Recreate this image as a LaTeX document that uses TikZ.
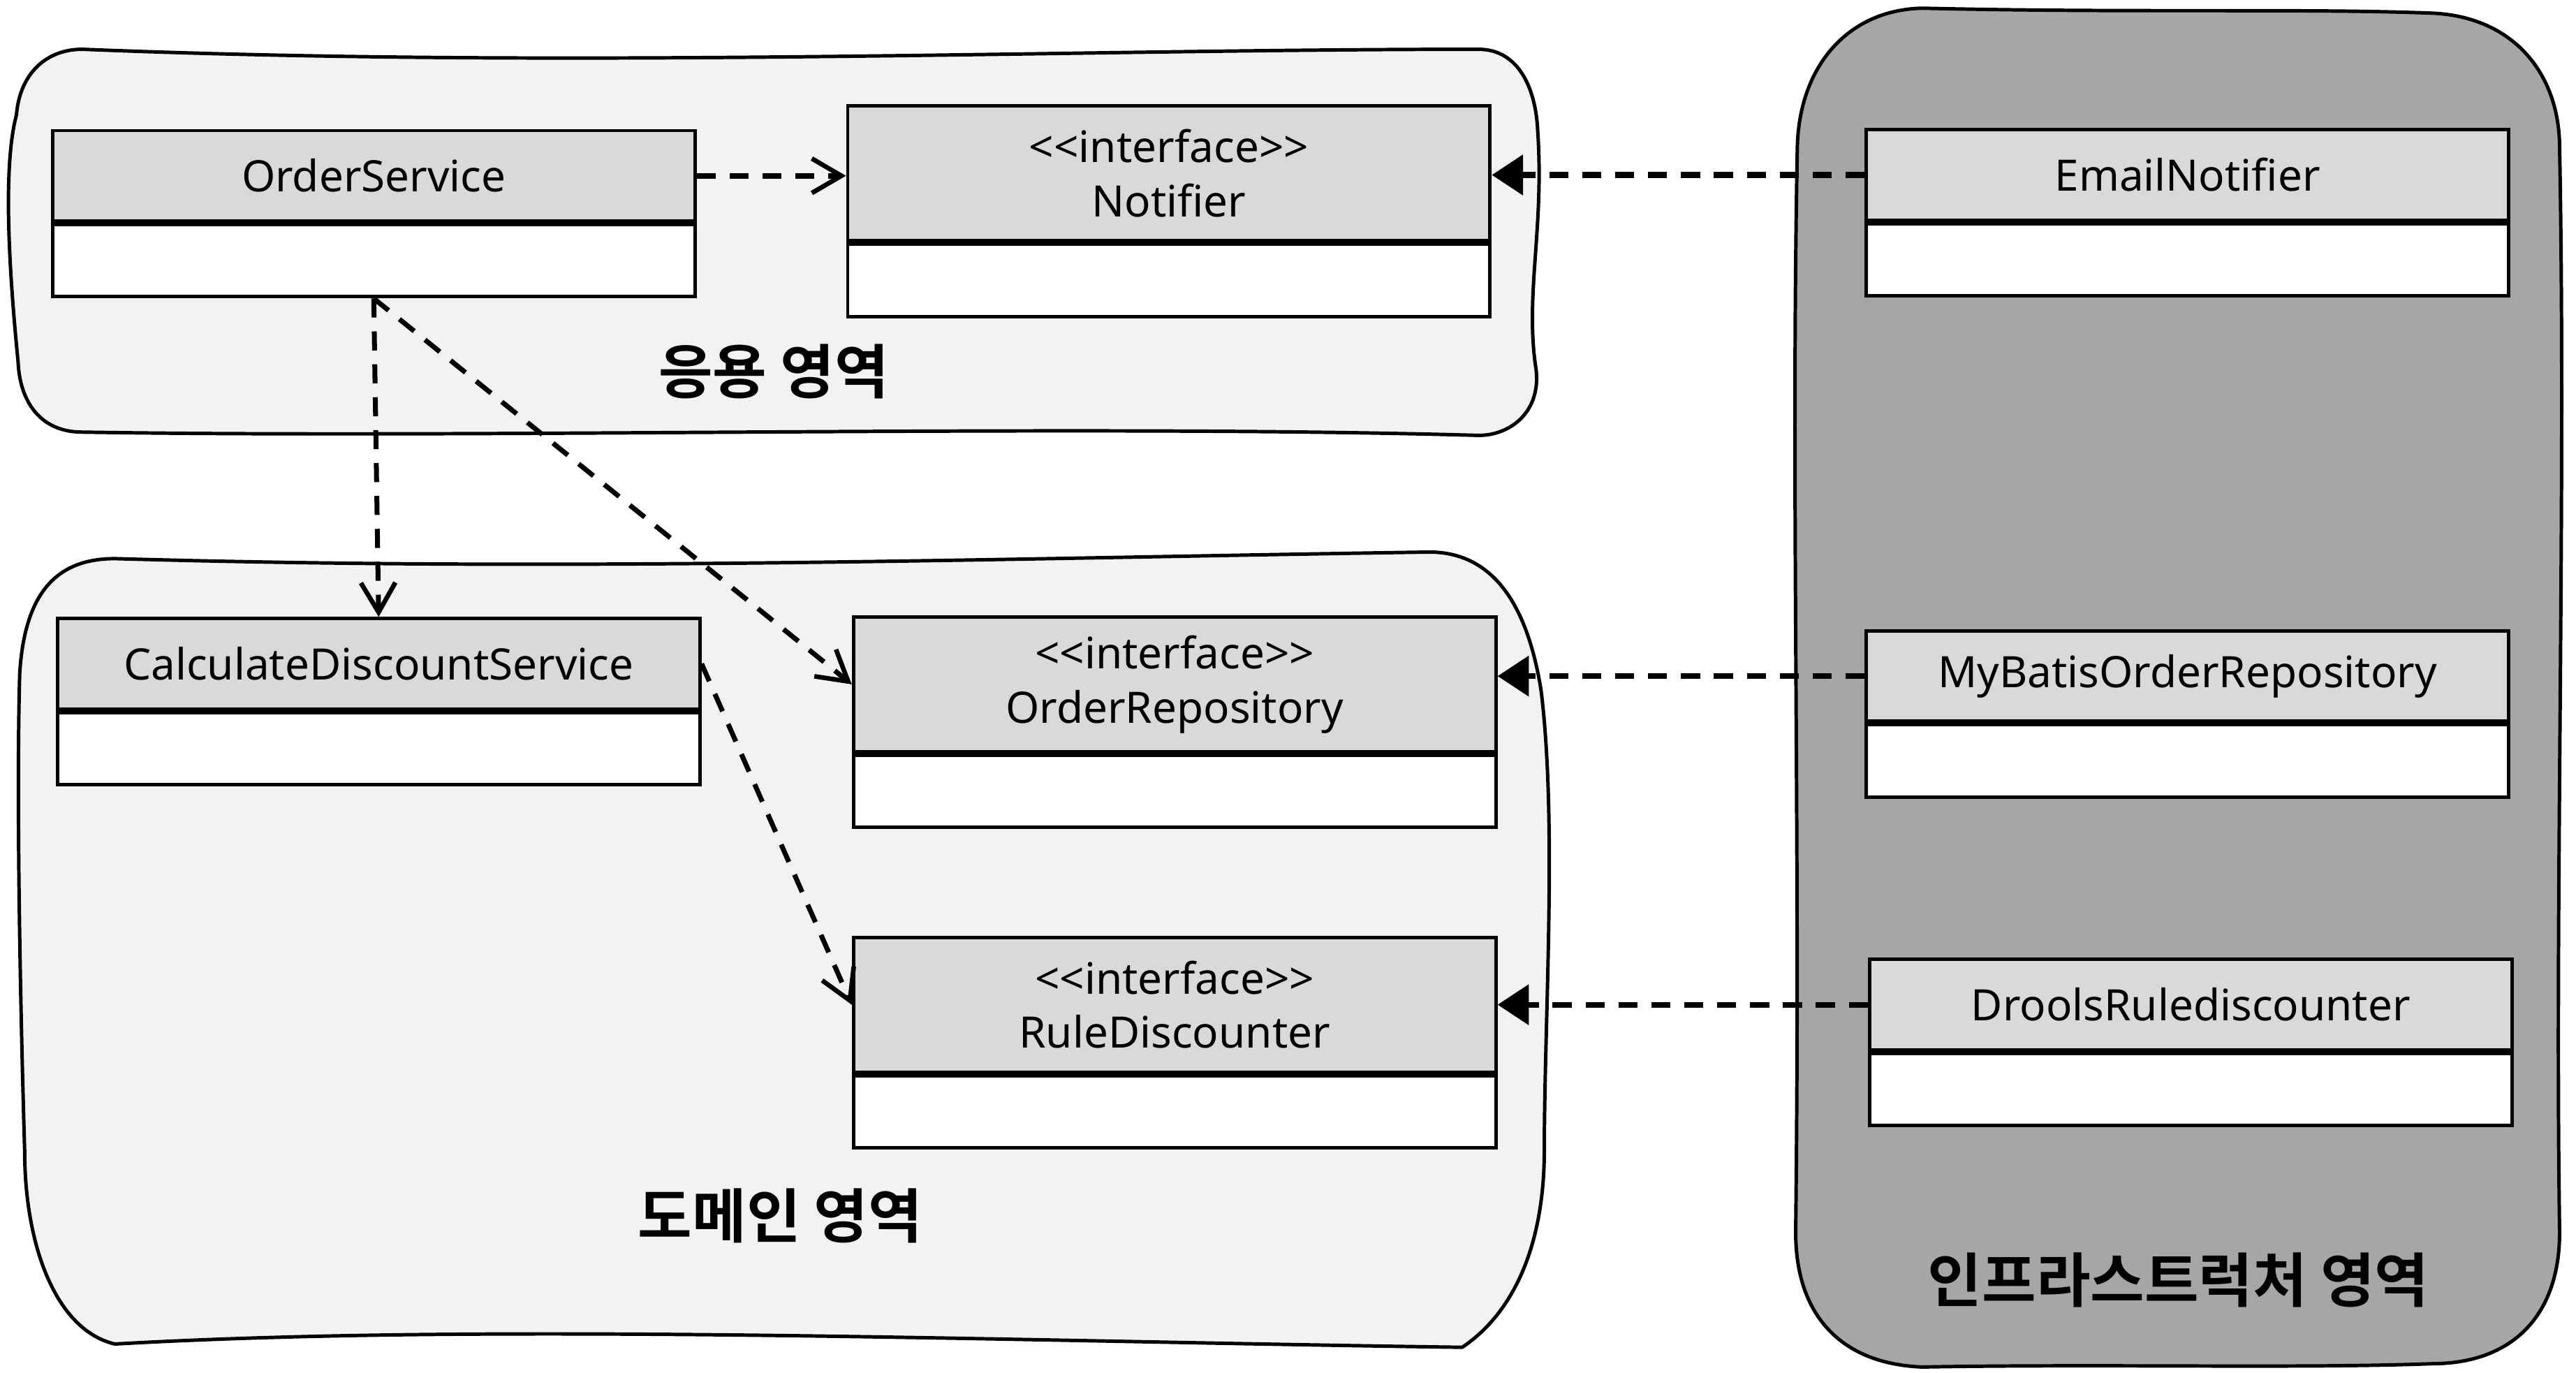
\documentclass[tikz,border=0pt]{standalone}
\usepackage{fontspec}
\setmainfont{Noto Sans}[Ligatures=TeXOff]
\newfontfamily\kofont{Noto Sans CJK KR Bold}
\usetikzlibrary{positioning,arrows.meta}

\begin{document}
\begin{tikzpicture}[
        font=\fontsize{7.5}{9.4}\selectfont,
        head/.style={draw, fill=black!15, line width=0.6pt, minimum width=3.91cm, minimum height=0.55cm, inner sep=0pt, align=center},
        ihead/.style={head, minimum height=0.82cm},
        body/.style={draw, fill=white, line width=0.6pt, minimum width=3.91cm, minimum height=0.44cm, inner sep=0pt},
        area/.style={draw, line width=0.6pt, line join=round},
        areaname/.style={font=\kofont\fontsize{10.2}{12}\selectfont},
        dep/.style={line width=0.85pt, dash pattern=on 3.3pt off 2.4pt, -{Straight Barb[length=1.8mm, width=2.1mm, line width=0.8pt]}},
        impl/.style={line width=1pt, dash pattern=on 3.3pt off 2.4pt, -{Triangle[length=1.9mm, width=2.4mm]}}
    ]
        \useasboundingbox (0,0) rectangle (15.68,-8.356);

        % Aree
        \draw[area, fill=black!5] (0.50,-0.30) .. controls (3.5,-0.42) and (6.5,-0.30) .. (9.00,-0.30)
            .. controls (9.25,-0.30) and (9.35,-0.55) .. (9.36,-0.80)
            .. controls (9.40,-1.40) and (9.28,-1.80) .. (9.35,-2.25)
            .. controls (9.38,-2.50) and (9.20,-2.65) .. (9.00,-2.65)
            .. controls (6.5,-2.58) and (3.0,-2.67) .. (0.50,-2.63)
            .. controls (0.25,-2.63) and (0.12,-2.45) .. (0.11,-2.20)
            .. controls (0.05,-1.60) and (0.02,-1.00) .. (0.10,-0.70)
            .. controls (0.12,-0.45) and (0.28,-0.30) .. cycle;
        \draw[area, fill=black!5] (0.70,-3.40) .. controls (3.5,-3.48) and (6.0,-3.40) .. (8.70,-3.36)
            .. controls (9.10,-3.36) and (9.30,-3.70) .. (9.38,-4.20)
            .. controls (9.48,-5.00) and (9.40,-6.20) .. (9.40,-7.00)
            .. controls (9.40,-7.60) and (9.20,-8.00) .. (8.90,-8.20)
            .. controls (6.0,-8.16) and (3.0,-8.05) .. (0.70,-8.18)
            .. controls (0.35,-8.10) and (0.15,-7.60) .. (0.15,-7.00)
            .. controls (0.12,-6.00) and (0.10,-4.80) .. (0.12,-4.10)
            .. controls (0.15,-3.60) and (0.35,-3.40) .. cycle;
        \draw[area, fill=black!35] (11.70,-0.05) .. controls (13.0,-0.08) and (14.0,-0.05) .. (14.80,-0.08)
            .. controls (15.30,-0.10) and (15.58,-0.45) .. (15.58,-0.90)
            .. controls (15.62,-3.0) and (15.55,-5.5) .. (15.58,-7.50)
            .. controls (15.58,-8.00) and (15.30,-8.30) .. (14.80,-8.30)
            .. controls (14.0,-8.33) and (12.8,-8.30) .. (11.70,-8.32)
            .. controls (11.20,-8.30) and (10.93,-8.00) .. (10.93,-7.50)
            .. controls (10.96,-5.0) and (10.90,-3.0) .. (10.94,-0.90)
            .. controls (10.95,-0.40) and (11.25,-0.06) .. cycle;

        \node[areaname] (app) at (4.71,-2.26) {응용 영역};
        \node[areaname] (dom) at (4.75,-7.40) {도메인 영역};
        \node[areaname] (infra) at (13.26,-7.79) {인프라스트럭처 영역};

        % Classi
        \node[head] (os) at (2.275,-1.07) {OrderService};
        \node[body, below=0pt of os] (osb) {};
        \node[ihead] (nt) at (7.115,-1.055) {<<interface>>\\Notifier};
        \node[body, below=0pt of nt] (ntb) {};
        \node[head] (cds) at (2.305,-4.04) {CalculateDiscountService};
        \node[body, below=0pt of cds] (cdsb) {};
        \node[ihead] (or) at (7.15,-4.165) {<<interface>>\\OrderRepository};
        \node[body, below=0pt of or] (orb) {};
        \node[ihead] (rd) at (7.15,-6.115) {<<interface>>\\RuleDiscounter};
        \node[body, below=0pt of rd] (rdb) {};

        \node[head] (en) at (13.315,-1.065) {EmailNotifier};
        \node[body, below=0pt of en] (enb) {};
        \node[head] (mb) at (13.315,-4.115) {MyBatisOrderRepository};
        \node[body, below=0pt of mb] (mbb) {};
        \node[head] (dr) at (13.335,-6.115) {DroolsRulediscounter};
        \node[body, below=0pt of dr] (drb) {};

        % Dipendenze
        \draw[dep, line width=1pt] (os.east) -- (os.east -| nt.west);
        \draw[dep] (osb.south) -- (cds.north);
        \draw[dep] (osb.south) -- (or.west);
        \draw[dep] (cds.east) -- (rd.west);

        % Implementazioni
        \draw[impl] (en.west) -- (en.west -| nt.east);
        \draw[impl] (mb.west) -- (mb.west -| or.east);
        \draw[impl] (dr.west) -- (dr.west -| rd.east);

    \end{tikzpicture}
\end{document}
